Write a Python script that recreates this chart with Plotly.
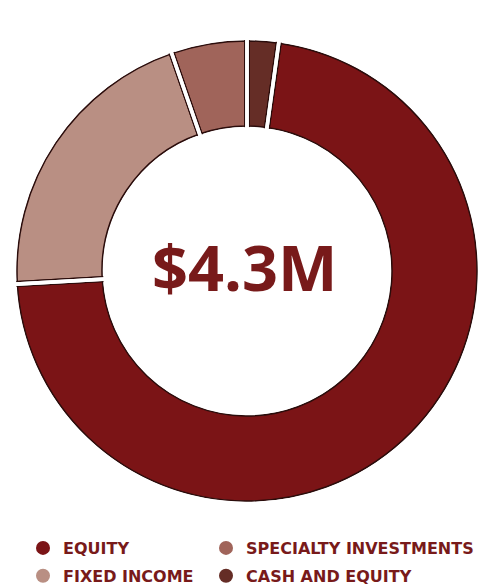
import plotly.graph_objects as go

# Data (share of $4.3M portfolio, %), in clockwise order starting at 12 o'clock
slice_labels = ["CASH AND EQUITY", "EQUITY", "FIXED INCOME", "SPECIALTY INVESTMENTS"]
slice_values = [2.2, 71.9, 20.6, 5.3]
slice_colors = ["#652d26", "#7b1416", "#b98f83", "#a0645a"]

# Legend layout: two columns
legend_col1 = ["EQUITY", "FIXED INCOME"]
legend_col2 = ["SPECIALTY INVESTMENTS", "CASH AND EQUITY"]
center_text = "$4.3M"

W, H = 493, 585
CX, CY = 247, 271          # ring centre in px (from top-left)
R_OUT, R_IN = 230, 145     # ring radii in px
TEXT_COLOR = "#781a1a"
OUTLINE = "#2a0c0b"

def dom(r):
    return dict(x=[(CX - r) / W, (CX + r) / W],
                y=[(H - CY - r) / H, (H - CY + r) / H])

color_of = dict(zip(slice_labels, slice_colors))
fig = go.Figure()

common = dict(labels=slice_labels, values=slice_values, sort=False,
              direction="clockwise", rotation=0, textinfo="none",
              hoverinfo="skip", showlegend=False)

# A: filled ring with thin dark outline
fig.add_trace(go.Pie(**common, hole=R_IN / R_OUT, domain=dom(R_OUT),
                     marker=dict(colors=slice_colors,
                                 line=dict(color=OUTLINE, width=1.5))))
# D: dark radial edges along the slice boundaries
R_D = R_OUT + 6
fig.add_trace(go.Pie(**common, hole=0, domain=dom(R_D),
                     marker=dict(colors=["rgba(0,0,0,0)"] * len(slice_values),
                                 line=dict(color=OUTLINE, width=6))))
# B: white gaps between slices
fig.add_trace(go.Pie(**common, hole=0, domain=dom(R_D),
                     marker=dict(colors=["rgba(0,0,0,0)"] * len(slice_values),
                                 line=dict(color="white", width=3.6))))
# masks: clean the hole and the outside of the ring
fig.add_trace(go.Pie(labels=["hole"], values=[1], sort=False, textinfo="none",
                     hoverinfo="skip", showlegend=False, hole=0,
                     domain=dom(R_IN - 1),
                     marker=dict(colors=["white"], line=dict(width=0))))
R_F = R_D + 8
fig.add_trace(go.Pie(labels=["outside"], values=[1], sort=False, textinfo="none",
                     hoverinfo="skip", showlegend=False,
                     hole=(R_OUT + 1) / R_F, domain=dom(R_F),
                     marker=dict(colors=["white"], line=dict(width=0))))

# legend entries
for leg, labs in (("legend", legend_col1), ("legend2", legend_col2)):
    for lab in labs:
        fig.add_trace(go.Scatter(x=[None], y=[None], mode="markers", name=lab,
                                 legend=leg, legendgroup=lab, hoverinfo="skip",
                                 marker=dict(color=color_of[lab], size=14,
                                             symbol="circle")))

fig.add_annotation(text=center_text, x=(CX - 3) / W, y=(H - CY + 5) / H,
                   xref="paper", yref="paper", showarrow=False,
                   xanchor="center", yanchor="middle",
                   font=dict(family="Open Sans", size=63, color=TEXT_COLOR,
                             weight=700))

legend_common = dict(orientation="v", xanchor="left",
                     y=(H - 531) / H, yanchor="top", tracegroupgap=4,
                     itemclick=False, itemdoubleclick=False,
                     font=dict(family="DejaVu Sans", size=16, color=TEXT_COLOR,
                               weight=700),
                     bgcolor="rgba(0,0,0,0)")

fig.update_layout(
    width=W, height=H, margin=dict(l=0, r=0, t=0, b=0, autoexpand=False),
    paper_bgcolor="white", plot_bgcolor="white",
    xaxis=dict(visible=False), yaxis=dict(visible=False),
    legend=dict(x=23 / W, **legend_common),
    legend2=dict(x=206 / W, **legend_common),
)

fig.write_html("out.html", config={"displayModeBar": False},
               post_script="document.body.style.margin='0';"
                           "document.body.style.overflow='hidden';")
